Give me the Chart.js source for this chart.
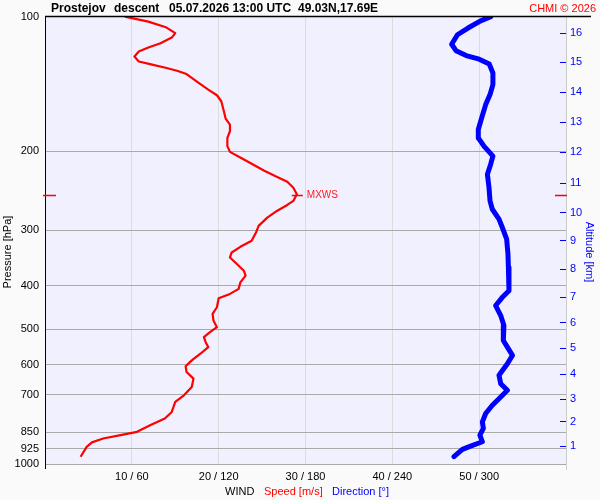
<!DOCTYPE html>
<html>
<head>
<meta charset="utf-8">
<script src="https://cdn.jsdelivr.net/npm/chart.js@4/dist/chart.umd.min.js"></script>
<style>
  body { margin: 0; background: #fafafa; }
  canvas { display: block; }
</style>
</head>
<body>
<canvas id="chart" width="600" height="500"></canvas>
<script>
// wind speed profile [m/s] vs pressure [hPa]
const speedVals = [9.2, 11.9, 14.0, 15.0, 14.6, 13.3, 11.9, 10.8, 10.3, 10.8, 12.1, 14.0, 15.2, 16.3, 17.1, 17.9, 18.8, 19.8, 20.3, 20.6,
  20.8, 21.3, 21.3, 21.0, 21.0, 21.3, 22.7, 23.8, 25.2, 26.5, 27.9, 28.6, 29.0, 28.6, 27.9, 26.7, 25.6, 24.6, 24.3, 23.8,
  22.5, 21.5, 21.3, 22.1, 22.9, 23.1, 22.5, 22.3, 21.3, 20.0, 19.8, 19.3, 19.4, 19.8, 19.0, 18.3, 18.5, 18.8, 17.9, 16.9,
  16.2, 16.3, 17.1, 16.9, 16.0, 15.0, 14.6, 13.8, 12.1, 10.6, 8.7, 6.7, 5.4, 4.8, 4.1];
const speedPres = [100, 102.6, 105.8, 108.9, 111.4, 114.7, 117.2, 119.7, 122.8, 126.0, 127.7, 130.3, 132.1, 134.4, 137.9, 141.5, 145.6, 149.9, 154.6, 162.7,
  169.0, 174.3, 180.4, 186.7, 194.8, 200.6, 207.5, 213.3, 220.7, 227.2, 233.9, 241.2, 249.5, 258.2, 263.6, 271.9, 281.4, 293.6, 303.9, 317.1,
  327.0, 336.7, 345.4, 357.3, 369.8, 379.4, 392.6, 406.1, 416.7, 426.2, 446.3, 461.7, 477.8, 494.5, 507.3, 520.5, 534.1, 547.9, 566.9, 586.6,
  604.9, 623.0, 644.5, 672.8, 702.1, 726.6, 764.9, 791.3, 818.9, 847.5, 862.1, 876.9, 894.7, 915.3, 963.2];

// wind direction [deg] vs pressure [hPa]
const dirVals = [308, 301, 292, 285, 281, 284, 291, 300, 307, 309.5, 309.5, 307.5, 304.5, 301.7, 299.4, 299.4, 303.3, 309.5, 307.9, 305.7,
  306.8, 307.5, 309.1, 313.7, 316.0, 319.0, 319.9, 320.2, 320.6, 320.6, 316.0, 311.4, 314.9, 317.1, 316.7, 319.5, 323.0, 319.5, 313.7, 314.9,
  319.5, 314.9, 309.1, 304.5, 302.2, 302.9, 300.5, 302.2, 294.1, 288.4, 282.6];
const dirPres = [100, 102.2, 106.2, 109.8, 115.3, 119.2, 122.2, 124.5, 127.7, 133.7, 141.9, 149.4, 157.3, 168.5, 178.8, 186.7, 194.8, 205.0, 214.0, 225.2,
  241.2, 258.2, 269.5, 283.6, 296.1, 314.4, 339.5, 363.6, 389.2, 409.9, 424.1, 442.4, 465.8, 490.3, 529.6, 547.9, 571.8, 596.8, 633.4, 661.3,
  684.4, 708.2, 739.0, 771.2, 805.1, 832.9, 862.1, 891.9, 912.0, 927.6, 963.2];

const pressureTicks = [100, 200, 300, 400, 500, 600, 700, 850, 925, 1000];
const speedTicks = [10, 20, 30, 40, 50];
const altKm = [16, 15, 14, 13, 12, 11, 10, 9, 8, 7, 6, 5, 4, 3, 2, 1];
const altPres = [108.9, 126.6, 147.7, 172.2, 200.9, 235.5, 274.6, 317.1, 367.3, 424.1, 482.8, 551.5, 630.2, 716.6, 805, 912];

const mxwsSpeed = 29.0;
const mxwsPres = 251;

Chart.defaults.font.family = "'Liberation Sans', Arial, sans-serif";
Chart.defaults.font.size = 11;
Chart.defaults.color = '#000';

const decor = {
  id: 'decor',
  beforeDraw(chart) {
    const { ctx, chartArea: a } = chart;
    ctx.save();
    ctx.fillStyle = '#fafafa';
    ctx.fillRect(0, 0, chart.width, chart.height);
    ctx.fillStyle = '#f0f0ff';
    ctx.fillRect(a.left, a.top, a.right - a.left, a.bottom - a.top);
    ctx.restore();
  },
  afterDraw(chart) {
    const { ctx, chartArea: a, scales } = chart;
    ctx.save();
    // title line
    ctx.strokeStyle = '#000';
    ctx.lineWidth = 1.5;
    ctx.beginPath();
    ctx.moveTo(a.left, a.top);
    ctx.lineTo(591, a.top);
    ctx.stroke();
    ctx.lineWidth = 1;
    ctx.beginPath();
    ctx.moveTo(a.left + 0.5, a.bottom);
    ctx.lineTo(a.left + 0.5, a.bottom + 5);
    ctx.stroke();
    ctx.strokeStyle = '#ccc';
    ctx.beginPath();
    ctx.moveTo(a.right + 0.5, a.bottom);
    ctx.lineTo(a.right + 0.5, a.bottom + 6);
    ctx.stroke();

    // title
    ctx.fillStyle = '#000';
    ctx.font = "bold 12px 'Liberation Sans', Arial, sans-serif";
    ctx.textBaseline = 'alphabetic';
    ctx.textAlign = 'left';
    ctx.fillText('Prostejov', 51, 12);
    ctx.fillText('descent', 114, 12);
    ctx.fillText('05.07.2026 13:00 UTC', 169, 12);
    ctx.fillText('49.03N,17.69E', 298, 12);
    ctx.font = "11px 'Liberation Sans', Arial, sans-serif";
    ctx.fillStyle = '#ff0000';
    ctx.textAlign = 'right';
    ctx.fillText('CHMI \u00a9 2026', 596, 12);

    // bottom legend text
    ctx.textAlign = 'left';
    ctx.fillStyle = '#000';
    ctx.fillText('WIND', 225, 495);
    ctx.fillStyle = '#ff0000';
    ctx.fillText('Speed [m/s]', 264, 495);
    ctx.fillStyle = '#0000ff';
    ctx.fillText('Direction [\u00b0]', 332, 495);

    // axis titles
    ctx.textAlign = 'center';
    ctx.textBaseline = 'middle';
    ctx.save();
    ctx.translate(8, 252);
    ctx.rotate(-Math.PI / 2);
    ctx.fillStyle = '#000';
    ctx.fillText('Pressure [hPa]', 0, 0);
    ctx.restore();
    ctx.save();
    ctx.translate(589, 252);
    ctx.rotate(Math.PI / 2);
    ctx.fillStyle = '#0000ff';
    ctx.fillText('Altitude [km]', 0, 0);
    ctx.restore();

    // max wind marker
    const mx = scales.x.getPixelForValue(mxwsSpeed);
    const my = Math.round(scales.y.getPixelForValue(mxwsPres)) + 0.5;
    ctx.strokeStyle = '#ff0000';
    ctx.lineWidth = 1.3;
    ctx.beginPath();
    ctx.moveTo(mx - 5, my); ctx.lineTo(mx + 6, my);
    ctx.moveTo(43, my); ctx.lineTo(56, my);
    ctx.moveTo(555, my); ctx.lineTo(567, my);
    ctx.stroke();
    ctx.fillStyle = '#ff2020';
    ctx.font = "10px 'Liberation Sans', Arial, sans-serif";
    ctx.textAlign = 'left';
    ctx.fillText('MXWS', mx + 10, my);
    ctx.restore();
  }
};

const ctx = document.getElementById('chart').getContext('2d');
new Chart(ctx, {
  type: 'scatter',
  data: {
    datasets: [
      {
        label: 'Speed',
        data: speedVals.map((v, i) => ({ x: v, y: speedPres[i] })),
        xAxisID: 'x',
        yAxisID: 'y',
        showLine: true,
        borderColor: '#ff0000',
        borderWidth: 2.2,
        pointRadius: 0,
        borderJoinStyle: 'round'
      },
      {
        label: 'Direction',
        data: dirVals.map((v, i) => ({ x: v, y: dirPres[i] })),
        xAxisID: 'x2',
        yAxisID: 'y',
        showLine: true,
        borderColor: '#0000ff',
        borderWidth: 5,
        pointRadius: 0,
        borderCapStyle: 'round',
        borderJoinStyle: 'round'
      }
    ]
  },
  options: {
    responsive: false,
    animation: false,
    layout: { padding: { top: 15, left: 0, right: 0, bottom: 0 } },
    plugins: { legend: { display: false }, tooltip: { enabled: false } },
    scales: {
      x: {
        type: 'linear',
        position: 'bottom',
        min: 0,
        max: 60,
        afterBuildTicks: s => { s.ticks = speedTicks.map(v => ({ value: v })); },
        afterFit: s => { s.height = 36; },
        ticks: { padding: 6, autoSkip: false, maxRotation: 0, callback: v => v + ' / ' + v * 6 },
        grid: { color: '#dcdcdc', drawTicks: false },
        border: { color: '#aaa' }
      },
      x2: {
        type: 'linear',
        position: 'bottom',
        min: 0,
        max: 360,
        display: false
      },
      y: {
        type: 'logarithmic',
        position: 'left',
        min: 100,
        max: 1000,
        reverse: true,
        afterBuildTicks: s => { s.ticks = pressureTicks.map(v => ({ value: v })); },
        afterFit: s => { s.width = 45; },
        ticks: { padding: 6, autoSkip: false, callback: v => String(v) },
        grid: { color: '#aaa', drawTicks: false },
        border: { color: '#000' }
      },
      y2: {
        type: 'logarithmic',
        position: 'right',
        min: 100,
        max: 1000,
        reverse: true,
        afterBuildTicks: s => { s.ticks = altPres.map(v => ({ value: v })); },
        afterFit: s => { s.width = 34; },
        ticks: { padding: 10, autoSkip: false, color: '#0000ff', callback: (v, i) => String(altKm[i]) },
        grid: { drawOnChartArea: false, drawTicks: true, tickLength: -6, tickColor: '#0000ff' },
        border: { color: '#ccc' }
      }
    }
  },
  plugins: [decor]
});
</script>
</body>
</html>
